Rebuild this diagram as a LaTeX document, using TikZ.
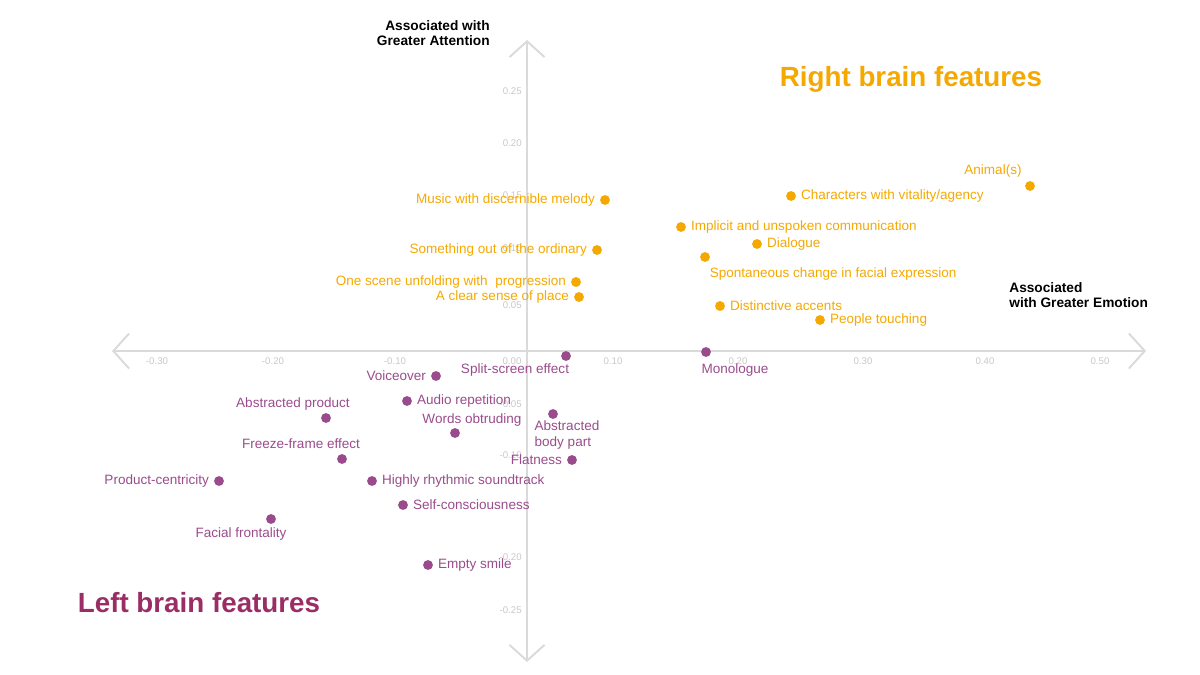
\documentclass[tikz,border=0pt]{standalone}
\usepackage{fontspec}
\setmainfont{Liberation Sans}
\usetikzlibrary{arrows.meta,positioning}
\definecolor{rbOrange}{HTML}{F5A800}
\definecolor{lbPurple}{HTML}{9A4B8C}
\definecolor{lbTitle}{HTML}{9B2D66}
\definecolor{axisGray}{HTML}{DADADA}
\definecolor{tickGray}{HTML}{C8C8C8}
\tikzset{
  odot/.style={circle,fill=rbOrange,inner sep=0pt,minimum size=5.6pt},
  pdot/.style={circle,fill=lbPurple,inner sep=0pt,minimum size=5.6pt},
  olab/.style={text=rbOrange,font=\fontsize{7.7}{8.8}\selectfont,inner sep=2.5pt},
  plab/.style={text=lbPurple,font=\fontsize{7.7}{8.8}\selectfont,inner sep=2.5pt},
  tick/.style={text=tickGray,font=\fontsize{5.5}{6}\selectfont,inner sep=0pt},
  axis/.style={axisGray,line width=1.1pt,{Straight Barb[length=9pt,width=20pt]}-{Straight Barb[length=9pt,width=20pt]}},
  heading/.style={font=\bfseries\fontsize{7.8}{8.8}\selectfont,align=left,inner sep=0pt}
}
\begin{document}
\begin{tikzpicture}[x=0.02cm,y=-0.02cm]
  \useasboundingbox (0,0) rectangle (1200,675);

  % axes
  \coordinate (xl) at (112,351);
  \coordinate (xr) at (1146,351);
  \coordinate (yt) at (527,40);
  \coordinate (yb) at (527,662);
  \draw[axis] (xl) -- (xr);
  \draw[axis] (yb) -- (yt);

  % tick labels
  \foreach \x/\t in {157/-0.30,273/-0.20,395/-0.10,512/0.00,613/0.10,738/0.20,863/0.30,985/0.40,1100/0.50}
    \node[tick] at (\x,361) {\t};
  \foreach \y/\t in {91/0.25,143/0.20,195/0.15,248/0.10,305/0.05,404/-0.05,455/-0.10,557/-0.20,610/-0.25}
    \node[tick,anchor=east] at (522,\y) {\t};

  % headings
  \node[heading,align=right,anchor=north east] (attn) at (490,20) {Associated with\\Greater Attention};
  \node[heading,anchor=west] (emo) at (1009,295) {Associated\\with Greater Emotion};
  \node[text=rbOrange,font=\bfseries\fontsize{15.8}{17}\selectfont] (right) at (911,79) {Right brain features};
  \node[text=lbTitle,font=\bfseries\fontsize{15.8}{17}\selectfont] (left) at (199,603) {Left brain features};

  % right brain features
  \node[odot,label={[olab,anchor=south east]above left:Animal(s)}] (animal) at (1030,186) {};
  \node[odot,label={[olab]right:Characters with vitality/agency}] (vital) at (791,196) {};
  \node[odot,label={[olab]left:Music with discernible melody}] (music) at (605,200) {};
  \node[odot,label={[olab]right:Implicit and unspoken communication}] (implicit) at (681,227) {};
  \node[odot,label={[olab]right:Dialogue}] (dialogue) at (757,244) {};
  \node[odot,label={[olab]left:Something out of the ordinary}] (ordinary) at (597,250) {};
  \node[odot] (spont) at (705,257) {};
  \node[olab,anchor=north west] (spontlab) at (705,263) {Spontaneous change in facial expression};
  \node[odot,label={[olab]left:One scene unfolding with\ \ progression}] (scene) at (576,282) {};
  \node[odot,label={[olab]left:A clear sense of place}] (place) at (579,297) {};
  \node[odot,label={[olab]right:Distinctive accents}] (accents) at (720,306) {};
  \node[odot,label={[olab]right:People touching}] (touch) at (820,320) {};

  % left brain features
  \node[pdot] (split) at (566,356) {};
  \node[plab] (splitlab) at (515,370) {Split-screen effect};
  \node[pdot] (mono) at (706,352) {};
  \node[plab] (monolab) at (735,370) {Monologue};
  \node[pdot,label={[plab]left:Voiceover}] (voice) at (436,376) {};
  \node[pdot,label={[plab]right:Audio repetition}] (audio) at (407,401) {};
  \node[pdot] (absprod) at (326,418) {};
  \node[plab] (absprodlab) at (293,404) {Abstracted product};
  \node[pdot] (absbody) at (553,414) {};
  \node[plab,align=left] (absbodylab) at (567,435) {Abstracted\\body part};
  \node[pdot] (words) at (455,433) {};
  \node[plab] (wordslab) at (472,420) {Words obtruding};
  \node[pdot] (freeze) at (342,459) {};
  \node[plab] (freezelab) at (301,444) {Freeze-frame effect};
  \node[pdot,label={[plab]left:Flatness}] (flat) at (572,460) {};
  \node[pdot,label={[plab]left:Product-centricity}] (prodcent) at (219,481) {};
  \node[pdot,label={[plab]right:Highly rhythmic soundtrack}] (rhythm) at (372,481) {};
  \node[pdot,label={[plab]right:Self-consciousness}] (selfc) at (403,505) {};
  \node[pdot] (facial) at (271,519) {};
  \node[plab] (faciallab) at (241,534) {Facial frontality};
  \node[pdot,label={[plab]right:Empty smile}] (smile) at (428,565) {};
\end{tikzpicture}
\end{document}
